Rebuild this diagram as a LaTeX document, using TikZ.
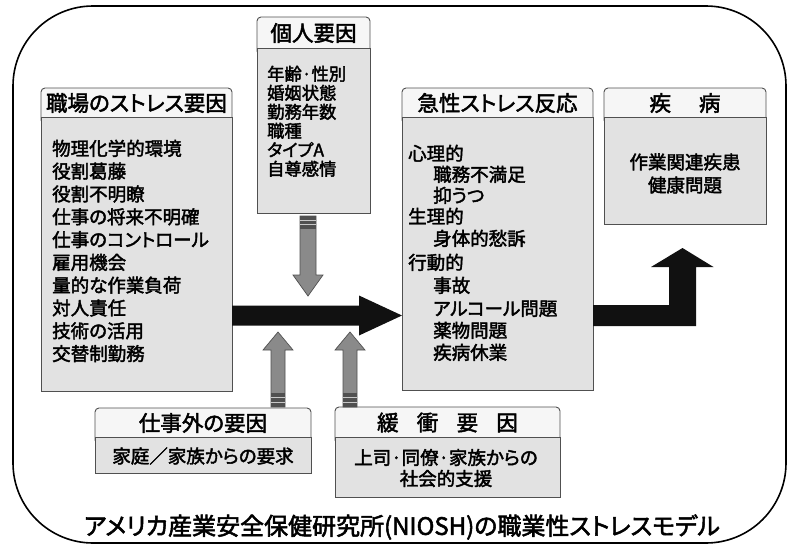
\documentclass[tikz,border=0pt]{standalone}
\usepackage{fontspec}
\setmainfont{Noto Sans CJK JP}[FakeBold=2.2, RawFeature={+palt}]
\usetikzlibrary{calc}
\definecolor{hdrfill}{HTML}{F6F6F6}
\definecolor{bodyfill}{HTML}{E2E2E2}
\definecolor{edge}{HTML}{505050}
\definecolor{garrowfill}{HTML}{8A8A8A}
\definecolor{stripedark}{HTML}{505050}
\definecolor{stripelight}{HTML}{C8C8C8}
\definecolor{blk}{HTML}{111111}
\tikzset{
  hdr/.style={draw=edge, fill=hdrfill, line width=0.9pt, rounded corners=4pt, anchor=north west, inner sep=0pt, outer sep=0pt},
  bodybox/.style={draw=edge, fill=bodyfill, line width=0.9pt, anchor=north west, inner sep=0pt, outer sep=0pt},
  hdrtext/.style={font=\fontsize{21.5}{24}\selectfont, inner sep=0pt},
  linetext/.style={inner sep=0pt, anchor=west, text height=0.8em, text depth=0.12em},
  frame/.style={draw=black, line width=1.6pt, rounded corners=80pt},
  garrow/.style={fill=garrowfill, draw=edge, line width=0.7pt},
  stripe/.style={draw=stripelight, line width=1.3pt},
  blackarrow/.style={fill=blk}
}
\begin{document}
\begin{tikzpicture}[x=1pt,y=-1pt]
\useasboundingbox (0,0) rectangle (788,549);
% outer frame
\draw[frame] (13,6) rectangle (786,543);

% headers (drawn first, bodies cover their bottom corners)
\node[hdr, minimum width=191pt, minimum height=36pt] (h1) at (41,88) {};
\node[hdr, minimum width=113pt, minimum height=38pt] (h2) at (257,17) {};
\node[hdr, minimum width=191pt, minimum height=36pt] (h3) at (402,88) {};
\node[hdr, minimum width=162pt, minimum height=36pt] (h4) at (604,88) {};
\node[hdr, minimum width=216pt, minimum height=36pt] (h5) at (95,408) {};
\node[hdr, minimum width=225pt, minimum height=37pt] (h6) at (335,407) {};

% bodies
\node[bodybox, minimum width=191pt, minimum height=274pt] (b1) at (41,117) {};
\node[bodybox, minimum width=113pt, minimum height=165pt] (b2) at (257,48) {};
\node[bodybox, minimum width=191pt, minimum height=273pt] (b3) at (402,117) {};
\node[bodybox, minimum width=162pt, minimum height=107pt] (b4) at (604,117) {};
\node[bodybox, minimum width=216pt, minimum height=36pt] (b5) at (95,437) {};
\node[bodybox, minimum width=225pt, minimum height=60pt] (b6) at (335,437) {};

% header texts
\node[hdrtext] (t1) at (136.5,103) {職場のストレス要因};
\node[hdrtext] (t2) at (313.5,33) {個人要因};
\node[hdrtext] (t3) at (497.5,103) {急性ストレス反応};
\node[hdrtext] (t4) at (685,103) {疾\hspace{1.3em}病};
\node[hdrtext] (t5) at (203,423) {仕事外の要因};
\node[hdrtext] (t6) at (447.5,422.5) {緩\hspace{0.85em}衝\hspace{0.85em}要\hspace{0.85em}因};

% body texts
\foreach \t [count=\i] in {物理化学的環境,役割葛藤,役割不明瞭,仕事の将来不明確,仕事のコントロール,雇用機会,量的な作業負荷,対人責任,技術の活用,交替制勤務}
  \node[linetext, font=\fontsize{18.5}{22}\selectfont] (l1-\i) at (52,{152+22.8*(\i-1)}) {\t};

\foreach \t [count=\i] in {年齢·性別,婚姻状態,勤務年数,職種,タイプA,自尊感情}
  \node[linetext, font=\fontsize{17.3}{20}\selectfont] (l2-\i) at (267,{77+19*(\i-1)}) {\t};

\foreach \dx/\yy/\t [count=\i] in {0/157/心理的,25/178/職務不満足,25/199/抑うつ,0/220/生理的,25/242/身体的愁訴,0/266/行動的,25/289/事故,25/312/アルコール問題,25/334/薬物問題,25/356/疾病休業}
  \node[linetext, font=\fontsize{18.5}{22}\selectfont] (l3-\i) at ({408+\dx},\yy) {\t};

\node[inner sep=0pt, align=center, font=\fontsize{18.5}{23}\selectfont] (l4) at (685,173.5) {作業関連疾患\\健康問題};
\node[inner sep=0pt, font=\fontsize{18.5}{22}\selectfont] (l5) at (203,456) {家庭／家族からの要求};
\node[inner sep=0pt, align=center, font=\fontsize{18.5}{21}\selectfont] (l6) at (446,468) {上司·同僚·家族からの\\社会的支援};

% caption
\node[inner sep=0pt, font=\fontsize{24}{28}\selectfont] (cap) at (402,527) {アメリカ産業安全保健研究所(NIOSH)の職業性ストレスモデル};

% connector coordinates
\coordinate (ya) at (0,315.5);
\coordinate (ds) at ($(b2.south)+(-5.5,3)$);
\coordinate (dt) at (308,296);
\coordinate (us1) at (278,407);
\coordinate (ut1) at (278,332);
\coordinate (us2) at (350,407);
\coordinate (ut2) at (350,332);
\coordinate (ot) at (682.5,248);

% main black arrow: stressors -> acute reactions
\fill[blackarrow] let \p1=(b1.east |- ya), \p2=(b3.west |- ya) in
  (\x1,\y1+10pt) -- (\x2-43pt,\y1+10pt) -- (\x2-43pt,\y1+20pt) -- (\x2,\y2)
  -- (\x2-43pt,\y1-20pt) -- (\x2-43pt,\y1-10pt) -- (\x1,\y1-10pt) -- cycle;

% output black arrow: acute reactions -> illness
\fill[blackarrow] let \p1=(b3.east |- ya), \p2=(ot) in
  (\x1,\y1+10.5pt) -- (\x2-13.5pt,\y1+10.5pt) -- (\x2-13.5pt,\y2-19pt) -- (\x2-31.5pt,\y2-19pt)
  -- (\x2,\y2) -- (\x2+31pt,\y2-19pt) -- (\x2+13.5pt,\y2-19pt) -- (\x2+13.5pt,\y1-10.5pt)
  -- (\x1,\y1-10.5pt) -- cycle;

% gray down arrow: individual factors
\filldraw[garrow] let \p1=(ds), \p2=(dt) in
  (\x1-8pt,\y1) -- (\x1+8pt,\y1) -- (\x1+8pt,\y2+21pt) -- (\x1+15pt,\y2+21pt) -- (\x2,\y2)
  -- (\x1-15pt,\y2+21pt) -- (\x1-8pt,\y2+21pt) -- cycle;
\fill[stripedark] let \p1=(ds) in (\x1-7.6pt,\y1-0.4pt) rectangle (\x1+7.6pt,\y1-13pt);
\draw[stripe] let \p1=(ds) in (\x1-7.6pt,\y1-4.5pt) -- (\x1+7.6pt,\y1-4.5pt);
\draw[stripe] let \p1=(ds) in (\x1-7.6pt,\y1-8.8pt) -- (\x1+7.6pt,\y1-8.8pt);

% gray up arrows: non-work factors, buffer factors
\foreach \s/\e in {us1/ut1, us2/ut2} {
  \filldraw[garrow] let \p1=(\s), \p2=(\e) in
    (\x1-7pt,\y1) -- (\x1+7pt,\y1) -- (\x1+7pt,\y2-18pt) -- (\x1+15pt,\y2-18pt) -- (\x2,\y2)
    -- (\x1-15pt,\y2-18pt) -- (\x1-7pt,\y2-18pt) -- cycle;
  \fill[stripedark] let \p1=(\s) in (\x1-6.6pt,\y1+0.4pt) rectangle (\x1+6.6pt,\y1+14pt);
  \draw[stripe] let \p1=(\s) in (\x1-6.6pt,\y1+4.8pt) -- (\x1+6.6pt,\y1+4.8pt);
  \draw[stripe] let \p1=(\s) in (\x1-6.6pt,\y1+9.4pt) -- (\x1+6.6pt,\y1+9.4pt);
}
\end{tikzpicture}
\end{document}
